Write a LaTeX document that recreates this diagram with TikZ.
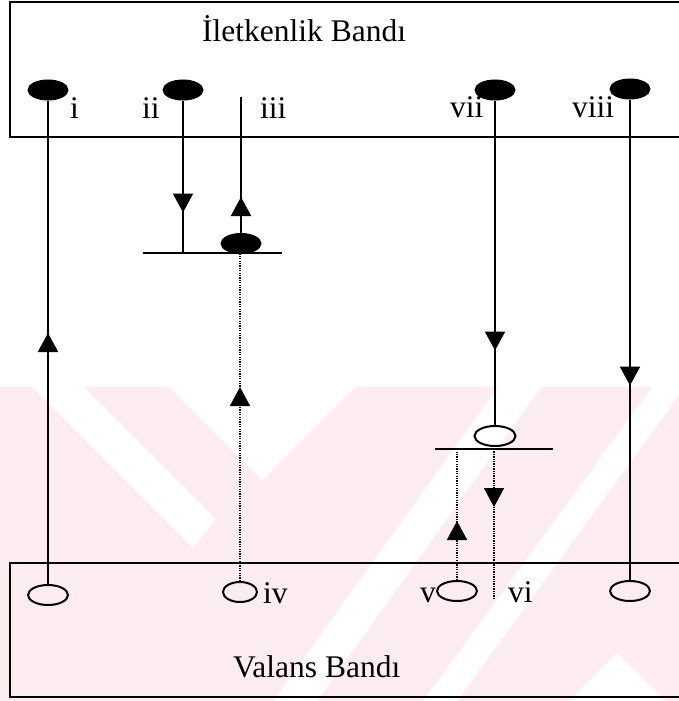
\documentclass[tikz,border=0pt]{standalone}
\usepackage{fontspec}
\setmainfont{Liberation Serif}
\usetikzlibrary{shapes.geometric,arrows.meta,decorations.markings}

\definecolor{wmpink}{RGB}{253,236,240}

\tikzset{
  band/.style={line width=2.6pt},
  wire/.style={line width=2.2pt},
  dotwire/.style={line width=1.6pt, dash pattern=on 1.3pt off 1.1pt},
  level/.style={line width=2.4pt},
  filled/.style={ellipse, draw, fill=black, line width=1pt, minimum width=40pt, minimum height=20pt, inner sep=0pt},
  hole/.style={ellipse, draw, line width=2pt, minimum width=#1, minimum height=20pt, inner sep=0pt},
  hole/.default=40pt,
  lbl/.style={inner sep=0pt, anchor=base west, font=\fontsize{31.5}{34}\selectfont},
  tipat/.style={postaction={decorate}, decoration={markings,
      mark=at position #1 with {\arrow{Triangle[width=20pt,length=19pt]}}}},
}

\begin{document}
\begin{tikzpicture}[x=1pt,y=-1pt]
\useasboundingbox (0,0) rectangle (679,701);

% faint background emblem
\fill[wmpink] (0,387) rectangle (679,701);
\fill[white] (169,387) -- (262,480) -- (355,387) -- cycle;
\fill[white] (32,387) -- (84,387) -- (216,519) -- (193,548) -- cycle;
\fill[white] (498,387) -- (541,387) -- (317,701) -- (273,701) -- cycle;
\fill[white] (652,387) -- (685,387) -- (457,701) -- (423,701) -- cycle;
\fill[white] (617,653) -- (665,701) -- (569,701) -- cycle;

% conduction and valence bands
\draw[band] (679,2) -- (10,2) -- (10,137) -- (679,137);
\draw[band] (679,563) -- (10,563) -- (10,697) -- (679,697);
\node[lbl] (cb) at (202,42) {İletkenlik Bandı};
\node[lbl] (vb) at (233,677) {Valans Bandı};

% electrons in the conduction band
\node[filled] (e1) at (48,90) {};
\node[filled] (e2) at (183,90) {};
\node[filled] (e7) at (495,90) {};
\node[filled] (e8) at (630,89) {};
\coordinate (c3) at (241,97);

% holes in the valence band
\node[hole] (h1) at (48,595) {};
\node[hole=34pt] (h4) at (240,592) {};
\node[hole] (h5) at (457,591) {};
\node[hole] (h8) at (630,591) {};
\coordinate (c6) at (494,598);

% trap levels
\coordinate (la-w) at (143,253);
\coordinate (la-e) at (282,253);
\coordinate (la2) at (183,253);
\coordinate (la4) at (240,253);
\draw[level] (la-w) -- (la-e);
\node[filled] (t3) at (241,243.5) {};

\coordinate (lb-w) at (435,449);
\coordinate (lb-e) at (553,449);
\coordinate (lb5) at (457,449);
\coordinate (lb6) at (494,449);
\draw[level] (lb-w) -- (lb-e);
\node[hole=41pt] (t7) at (495,436) {};

% transitions
\draw[wire, tipat=251pt] (h1.north) -- (e1.south);
\draw[wire, tipat=112pt] (e2.south) -- (la2);
\draw[wire, tipat=36pt] (t3.north) -- (c3);
\draw[dotwire, tipat=194pt] (h4.north) -- (la4);
\draw[wire, tipat=250pt] (e7.south) -- (t7.north);
\draw[dotwire, tipat=59pt] (h5.north) -- (lb5);
\draw[dotwire, tipat=58pt] (lb6) -- (c6);
\draw[wire, tipat=286pt] (e8.south) -- (h8.north);

% labels
\node[lbl] (li) at (70,118) {i};
\node[lbl] (lii) at (142,118) {ii};
\node[lbl] (liii) at (260,118) {iii};
\node[lbl] (lvii) at (450,117) {vii};
\node[lbl] (lviii) at (572,117) {viii};
\node[lbl] (liv) at (263,603) {iv};
\node[lbl] (lv) at (420,602) {v};
\node[lbl] (lvi) at (508,602) {vi};
\end{tikzpicture}
\end{document}
